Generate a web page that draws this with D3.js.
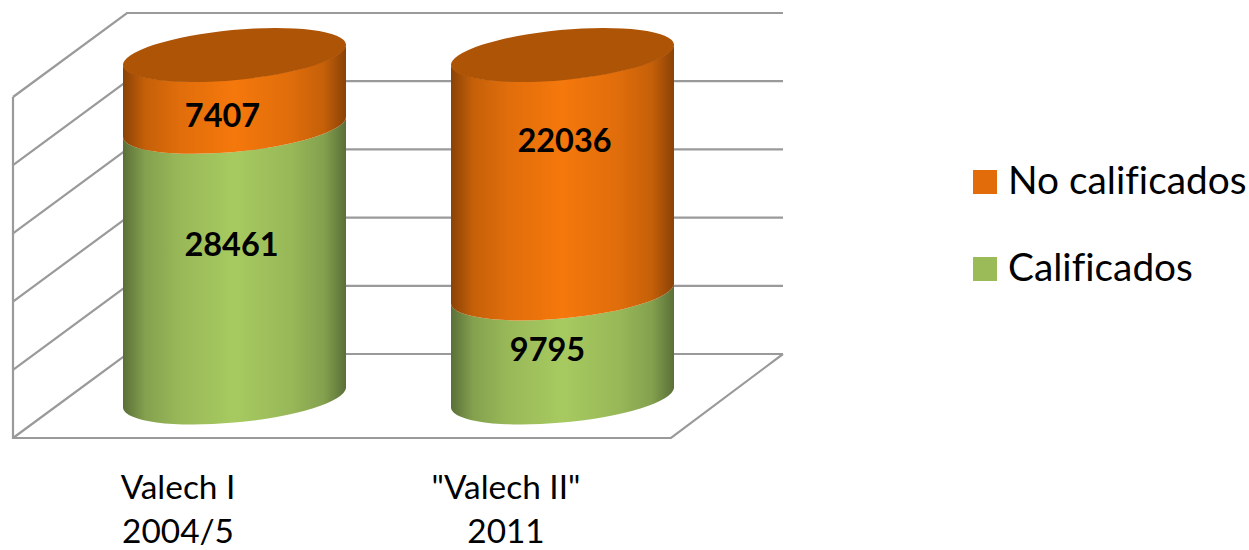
<!DOCTYPE html>
<html><head><meta charset="utf-8">
<script src="https://cdn.jsdelivr.net/npm/d3@7"></script>
<style>html,body{margin:0;padding:0;background:#fff}svg{display:block}text{font-family:Lato,"Open Sans",sans-serif;fill:#000;font-variant-ligatures:none}</style>
</head><body><div id="c"></div>
<script>
const categories = [["Valech I","2004/5"],["\"Valech II\"","2011"]];
const seriesNames = ["Calificados","No calificados"];
const calificados = [28461, 9795];
const noCalificados = [7407, 22036];
const ticks = [0,20,40,60,80,100];

const W=1249,H=550;
const svg=d3.select("#c").append("svg").attr("width",W).attr("height",H);
const defs=svg.append("defs");
function grad(id,edge,mid){
  const g=defs.append("linearGradient").attr("id",id).attr("x1",0).attr("x2",1).attr("y1",0).attr("y2",0);
  [[0,0],[0.1,0.55],[0.25,0.8],[0.5,1],[0.75,0.8],[0.9,0.55],[1,0]]
    .forEach(s=>g.append("stop").attr("offset",s[0]).attr("stop-color",d3.interpolateRgb(edge,mid)(s[1])));
}
grad("gO","#8a4206","#f5780c");
grad("gG","#5a6f38","#a7ca60");

// back wall / floor
const wall={x0:13,x1:127,xR:783,frontR:671,depth:84};
const yBack=d3.scaleLinear().domain([0,100]).range([354,13]);
const gridG=svg.append("g").attr("fill","none").attr("stroke","#9a9a9a").attr("stroke-width",2.2);
ticks.forEach(t=>{
  const y=yBack(t);
  gridG.append("path").attr("d",`M${wall.x0},${y+wall.depth}L${wall.x1},${y}L${wall.xR},${y}`);
});
gridG.append("path").attr("d",`M${wall.x0},${yBack(100)+wall.depth}L${wall.x0},${yBack(0)+wall.depth}L${wall.frontR},${yBack(0)+wall.depth}L${wall.xR},${yBack(0)}`);

// cylinders: 100% stacked
const cyl=[{cx:234.5,y0:398,y1:55},{cx:562.5,y0:398,y1:55}];
const hw=111.5,a=112,b=25,rot=-5.4,dy=10,seam=1.5;
const labelDx=[[-3,-12],[-15,2]];
const labelY=[[248,119],[353,144]];
categories.forEach((cat,i)=>{
  const total=calificados[i]+noCalificados[i];
  const y=d3.scaleLinear().domain([0,total]).range([cyl[i].y0,cyl[i].y1]);
  const cx=cyl[i].cx, g=svg.append("g");
  const seg=(yl,yh)=>`M${cx-hw},${yh+dy}A${a},${b},${rot},0,0,${cx+hw},${yh-dy}L${cx+hw},${yl-dy}A${a},${b},${rot},0,1,${cx-hw},${yl+dy}Z`;
  const ySeam=y(calificados[i])+seam;
  g.append("path").attr("d",seg(y(0),ySeam)).attr("fill","url(#gG)");
  g.append("path").attr("d",seg(ySeam,y(total))).attr("fill","url(#gO)");
  g.append("ellipse").attr("cx",cx).attr("cy",y(total)).attr("rx",a).attr("ry",b)
    .attr("transform",`rotate(${rot},${cx},${y(total)})`).attr("fill","#ae5407");
  [calificados[i],noCalificados[i]].forEach((v,k)=>{
    svg.append("text").attr("x",cx+labelDx[i][k]).attr("y",labelY[i][k]).attr("text-anchor","middle")
      .attr("font-size",32.5).attr("font-weight",700).attr("dominant-baseline","middle").text(v);
  });
});

// category labels
const catX=[178,506];
categories.forEach((c,i)=>c.forEach((t,k)=>{
  svg.append("text").attr("x",catX[i]).attr("y",499+k*44).attr("text-anchor","middle").attr("font-size",33.4).text(t);
}));

// legend
const legendItems=[{n:seriesNames[1],c:"#e36c0a",y:170},{n:seriesNames[0],c:"#9bbb59",y:257}];
legendItems.forEach(d=>{
  svg.append("rect").attr("x",973).attr("y",d.y).attr("width",24).attr("height",24).attr("fill",d.c);
  svg.append("text").attr("x",1008).attr("y",d.y+24).attr("font-size",38.8).text(d.n);
});
</script></body></html>
